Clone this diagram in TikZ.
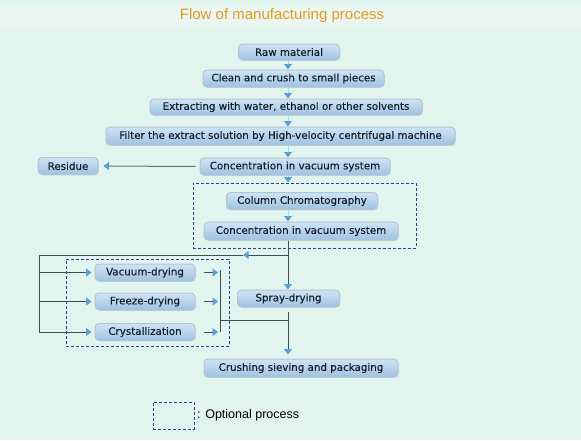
\documentclass[tikz,border=0pt]{standalone}
\usepackage{fontspec}
\setmainfont{DejaVu Sans}
\newfontfamily\boxfont[FakeBold=0.25]{DejaVu Sans}
\newfontfamily\titlefont{Liberation Sans}
\usetikzlibrary{arrows.meta,shadows}
\definecolor{bg}{HTML}{E2F4EE}
\definecolor{boxtop}{HTML}{D0E4F4}
\definecolor{boxbot}{HTML}{9EC2E2}
\definecolor{boxline}{HTML}{B3C5D2}
\definecolor{arrowblue}{HTML}{5C9ED6}
\definecolor{linegray}{HTML}{3E4E55}
\definecolor{resline}{HTML}{5E7676}
\definecolor{dashblue}{HTML}{2E3C94}
\definecolor{titleorange}{HTML}{E39B1E}
\definecolor{boxtext}{HTML}{16202C}
\tikzset{
  btip/.tip={Triangle[width=8pt,length=5.5pt,color=arrowblue]},
  pbox/.style={rounded corners=4pt, top color=boxtop, bottom color=boxbot,
    draw=boxline, line width=1pt, text=boxtext, inner sep=0pt,
    font=\boxfont\fontsize{10.3}{12}\selectfont,
    drop shadow={shadow xshift=0.8pt, shadow yshift=-0.9pt, opacity=0.18}},
  shortarr/.style={draw=arrowblue!45, line width=1pt, -btip},
  conn/.style={draw=linegray, line width=1pt},
  connarr/.style={draw=linegray, line width=1pt, -btip},
  optbox/.style={draw=dashblue, line width=0.9pt, dash pattern=on 3pt off 2pt, inner sep=0pt}
}
\begin{document}
\begin{tikzpicture}[x=1pt,y=-1pt]
\useasboundingbox (0,0) rectangle (581,440);
\fill[bg] (0,0) rectangle (581,440);
\fill[white,opacity=0.25] (0,7) rectangle (581,28);
\node (title) at (282,16) {\titlefont\fontsize{15}{17}\selectfont\color{titleorange}Flow of manufacturing process};

\node[pbox, minimum width=101pt, minimum height=16pt] (raw) at (289,52) {Raw material};
\node[pbox, minimum width=181pt, minimum height=17pt] (clean) at (293.5,78.5) {Clean and crush to small pieces};
\node[pbox, minimum width=272pt, minimum height=16pt] (extr) at (286,107) {Extracting with water, ethanol or other solvents};
\node[pbox, minimum width=349pt, minimum height=18pt] (filt) at (280.5,136) {Filter the extract solution by High-velocity centrifugal machine};
\node[pbox, minimum width=60pt, minimum height=17pt] (res) at (68,166) {Residue};
\node[pbox, minimum width=190pt, minimum height=17pt] (conc1) at (295,166.5) {Concentration in vacuum system};
\node[optbox, minimum width=223pt, minimum height=65pt] (opt1) at (304.5,215.5) {};
\node[pbox, minimum width=151pt, minimum height=17pt] (col) at (302,201) {Column Chromatography};
\node[pbox, minimum width=194pt, minimum height=18pt] (conc2) at (301,231) {Concentration in vacuum system};
\node[optbox, minimum width=163pt, minimum height=87pt] (opt2) at (147.5,302.5) {};
\node[pbox, minimum width=100pt, minimum height=17pt] (vac) at (145,272.5) {Vacuum-drying};
\node[pbox, minimum width=100pt, minimum height=17pt] (frz) at (145,301.5) {Freeze-drying};
\node[pbox, minimum width=100pt, minimum height=17pt] (cry) at (145,332) {Crystallization};
\node[pbox, minimum width=102pt, minimum height=17pt] (spray) at (288.5,298.5) {Spray-drying};
\node[pbox, minimum width=194pt, minimum height=18pt] (crush) at (301,368) {Crushing sieving and packaging};

\coordinate (ax) at (288,0);
\draw[shortarr] (raw.south -| ax) -- (clean.north -| ax);
\draw[shortarr] (clean.south -| ax) -- (extr.north -| ax);
\draw[shortarr] (extr.south -| ax) -- (filt.north -| ax);
\draw[shortarr] (filt.south -| ax) -- (conc1.north -| ax);
\draw[shortarr] (conc1.south -| ax) -- (opt1.north -| ax);
\draw[shortarr] (col.south -| ax) -- (conc2.north -| ax);
\draw[draw=resline, line width=1pt, -btip, shorten <=4pt, shorten >=5pt] (conc1.west) -- (res.east);

% main line to spray drying
\draw[connarr] (conc2.south -| ax) -- (spray.north -| ax);
\coordinate (j1) at (288,255);
\coordinate (la) at (243,255);
\coordinate (lc) at (39,255);
\coordinate (lb) at (39,332);
\draw[connarr] (j1) -- (la);
\draw[conn] (la) -- (lc) -- (lb);
\draw[connarr, shorten >=3pt] (lc |- vac.west) -- (vac.west);
\draw[connarr, shorten >=3pt] (lc |- frz.west) -- (frz.west);
\draw[connarr, shorten >=3pt] (lc |- cry.west) -- (cry.west);

% right collector
\coordinate (rt) at (220,270);
\coordinate (rb) at (220,332);
\draw[conn] (rt) -- (rb);
\draw[connarr, shorten <=8pt, shorten >=2pt] (vac.east) -- (vac.east -| rt);
\draw[connarr, shorten <=8pt, shorten >=2pt] (frz.east) -- (frz.east -| rt);
\draw[connarr, shorten <=8pt, shorten >=2pt] (cry.east) -- (cry.east -| rt);
\coordinate (rj) at (220,320);
\coordinate (sj) at (288,320);
\draw[conn] (rj) -- (sj);
\draw[connarr, shorten <=4pt, shorten >=4pt] (spray.south -| ax) -- (crush.north -| ax);

% legend
\node[optbox, minimum width=41pt, minimum height=27pt] (leg) at (173.5,415.5) {};
\node[anchor=west, inner sep=0pt] (legtxt) at (197,415.5) {\titlefont\fontsize{12.5}{14}\selectfont : Optional process};
\end{tikzpicture}
\end{document}
